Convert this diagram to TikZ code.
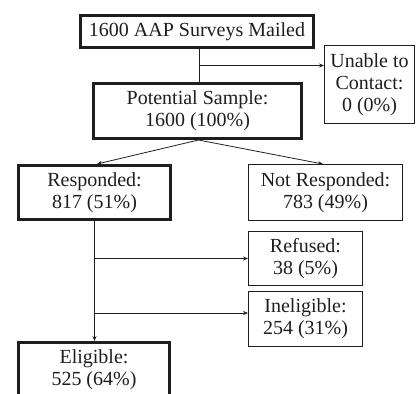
\documentclass[tikz,border=0pt]{standalone}
\usepackage{fontspec}
\setmainfont{Liberation Serif}
\usetikzlibrary{arrows.meta,calc}
\definecolor{ink}{RGB}{30,30,30}
\begin{document}
\begin{tikzpicture}[x=1pt,y=-1pt,
  box/.style={draw=ink,text=ink,inner sep=0pt,align=center,
    font=\fontsize{20}{22}\selectfont},
  thickbox/.style={box,line width=2.6pt},
  thinbox/.style={box,line width=0.9pt},
  conn/.style={draw=ink,line width=0.8pt},
  arr/.style={conn,-{Stealth[length=5pt,width=4pt]}}]
\useasboundingbox (0,0) rectangle (416,394);
\clip (0,0) rectangle (416,394);
\node[thickbox,minimum width=233.4pt,minimum height=32.4pt] (mail) at (197,31.5) {1600 AAP Surveys Mailed};
\node[thickbox,minimum width=208.4pt,minimum height=55.4pt] (pot) at (197.5,111) {Potential Sample:\\1600 (100\%)};
\node[thinbox,minimum width=90pt,minimum height=78pt] (unable) at (369.5,84.5) {Unable to\\Contact:\\0 (0\%)};
\node[thickbox,minimum width=152.4pt,minimum height=54.4pt] (resp) at (94.5,192.5) {Responded:\\817 (51\%)};
\node[thinbox,minimum width=154pt,minimum height=56pt] (notresp) at (325.5,192.5) {Not Responded:\\783 (49\%)};
\node[thinbox,minimum width=114pt,minimum height=54pt] (refused) at (305.5,258.5) {Refused:\\38 (5\%)};
\node[thinbox,minimum width=114pt,minimum height=55pt] (inel) at (305.5,319) {Ineligible:\\254 (31\%)};
\node[thickbox,minimum width=151.4pt,minimum height=54.4pt] (elig) at (94,369.5) {Eligible:\\525 (64\%)};

\draw[conn] ($(mail.south)+(2,0)$) coordinate (m0) -- (m0 |- pot.north);
\coordinate (m1) at ($(m0)!0.5!(m0 |- pot.north)$);
\draw[arr] (m1) -- (m1 -| unable.west);
\draw[arr] ($(pot.south)+(1,0)$) -- ($(resp.north)+(2.5,0)$);
\draw[arr] ($(pot.south)+(1,0)$) -- ($(notresp.north)+(-2.5,0)$);
\draw[arr] (resp.south) -- (resp.south |- elig.north);
\draw[arr] (resp.south |- refused.west) -- (refused.west);
\coordinate (b2) at ($(resp.south |- inel.west)+(0,-6)$);
\draw[arr] (b2) -- (b2 -| inel.west);
\end{tikzpicture}
\end{document}
